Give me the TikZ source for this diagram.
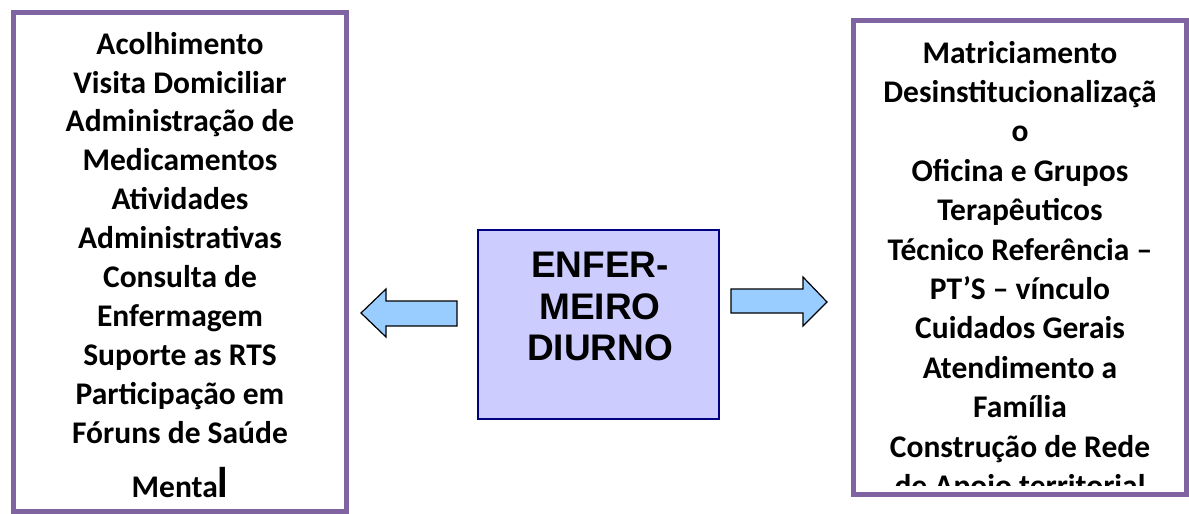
\documentclass[tikz,border=0pt]{standalone}
\usepackage{fontspec}
\setmainfont{Carlito}
\newfontfamily\arialfont{Liberation Sans}
\definecolor{boxpurple}{RGB}{128,100,162}
\definecolor{centerfill}{RGB}{204,204,255}
\definecolor{centerdraw}{RGB}{0,0,128}
\definecolor{arrowfill}{RGB}{153,204,255}
\tikzset{
  listbox/.style={draw=boxpurple, line width=5pt},
  listtext/.style={align=center, inner sep=0pt, font=\bfseries\fontsize{31.5}{38.9}\selectfont},
  centerbox/.style={draw=centerdraw, fill=centerfill, line width=1.3pt},
  centertext/.style={align=center, inner sep=0pt, font=\arialfont\bfseries\fontsize{37}{41.5}\selectfont},
  blockarrow/.style={draw=black, fill=arrowfill, line width=1.2pt, line join=miter}
}
\begin{document}
\begin{tikzpicture}[x=1pt,y=-1pt]
\useasboundingbox (0,0) rectangle (1189,514);
% left box
\draw[listbox] (13,12) rectangle (346,511);
\node[listtext, anchor=base] (lefttext) at (180,497) {Acolhimento\\Visita Domiciliar\\Administração de\\Medicamentos\\Atividades\\Administrativas\\Consulta de\\Enfermagem\\Suporte as RTS\\Participação em\\Fóruns de Saúde\\[15pt]Menta{\fontsize{43}{43}\selectfont l}};
% right box
\begin{scope}
\clip (855.5,22.5) rectangle (1183.5,485);
\node[listtext, anchor=base, font=\bfseries\fontsize{31.5}{39.4}\selectfont] (righttext) at (1020,496.4) {Matriciamento\\Desinstitucionalizaçã\\o\\Oficina e Grupos\\Terapêuticos\\Técnico Referência –\\PT’S – vínculo\\Cuidados Gerais\\Atendimento a\\Família\\Construção de Rede\\de Apoio territorial};
\end{scope}
\draw[listbox] (853,20) rectangle (1186,494);
% center box
\node[centerbox, minimum width=241pt, minimum height=189pt, inner sep=0pt] (center) at (598.5,324.5) {};
\node[centertext, anchor=base] (centertxt) at (600,360.5) {ENFER-\\MEIRO\\DIURNO};
% arrows
\draw[blockarrow] (457,301) -- (386,301) -- (386,289) -- (361,313) -- (386,337) -- (386,326) -- (457,326) -- cycle;
\draw[blockarrow] (731,289) -- (803,289) -- (803,277) -- (827,302) -- (803,326) -- (803,313) -- (731,313) -- cycle;
\end{tikzpicture}
\end{document}
